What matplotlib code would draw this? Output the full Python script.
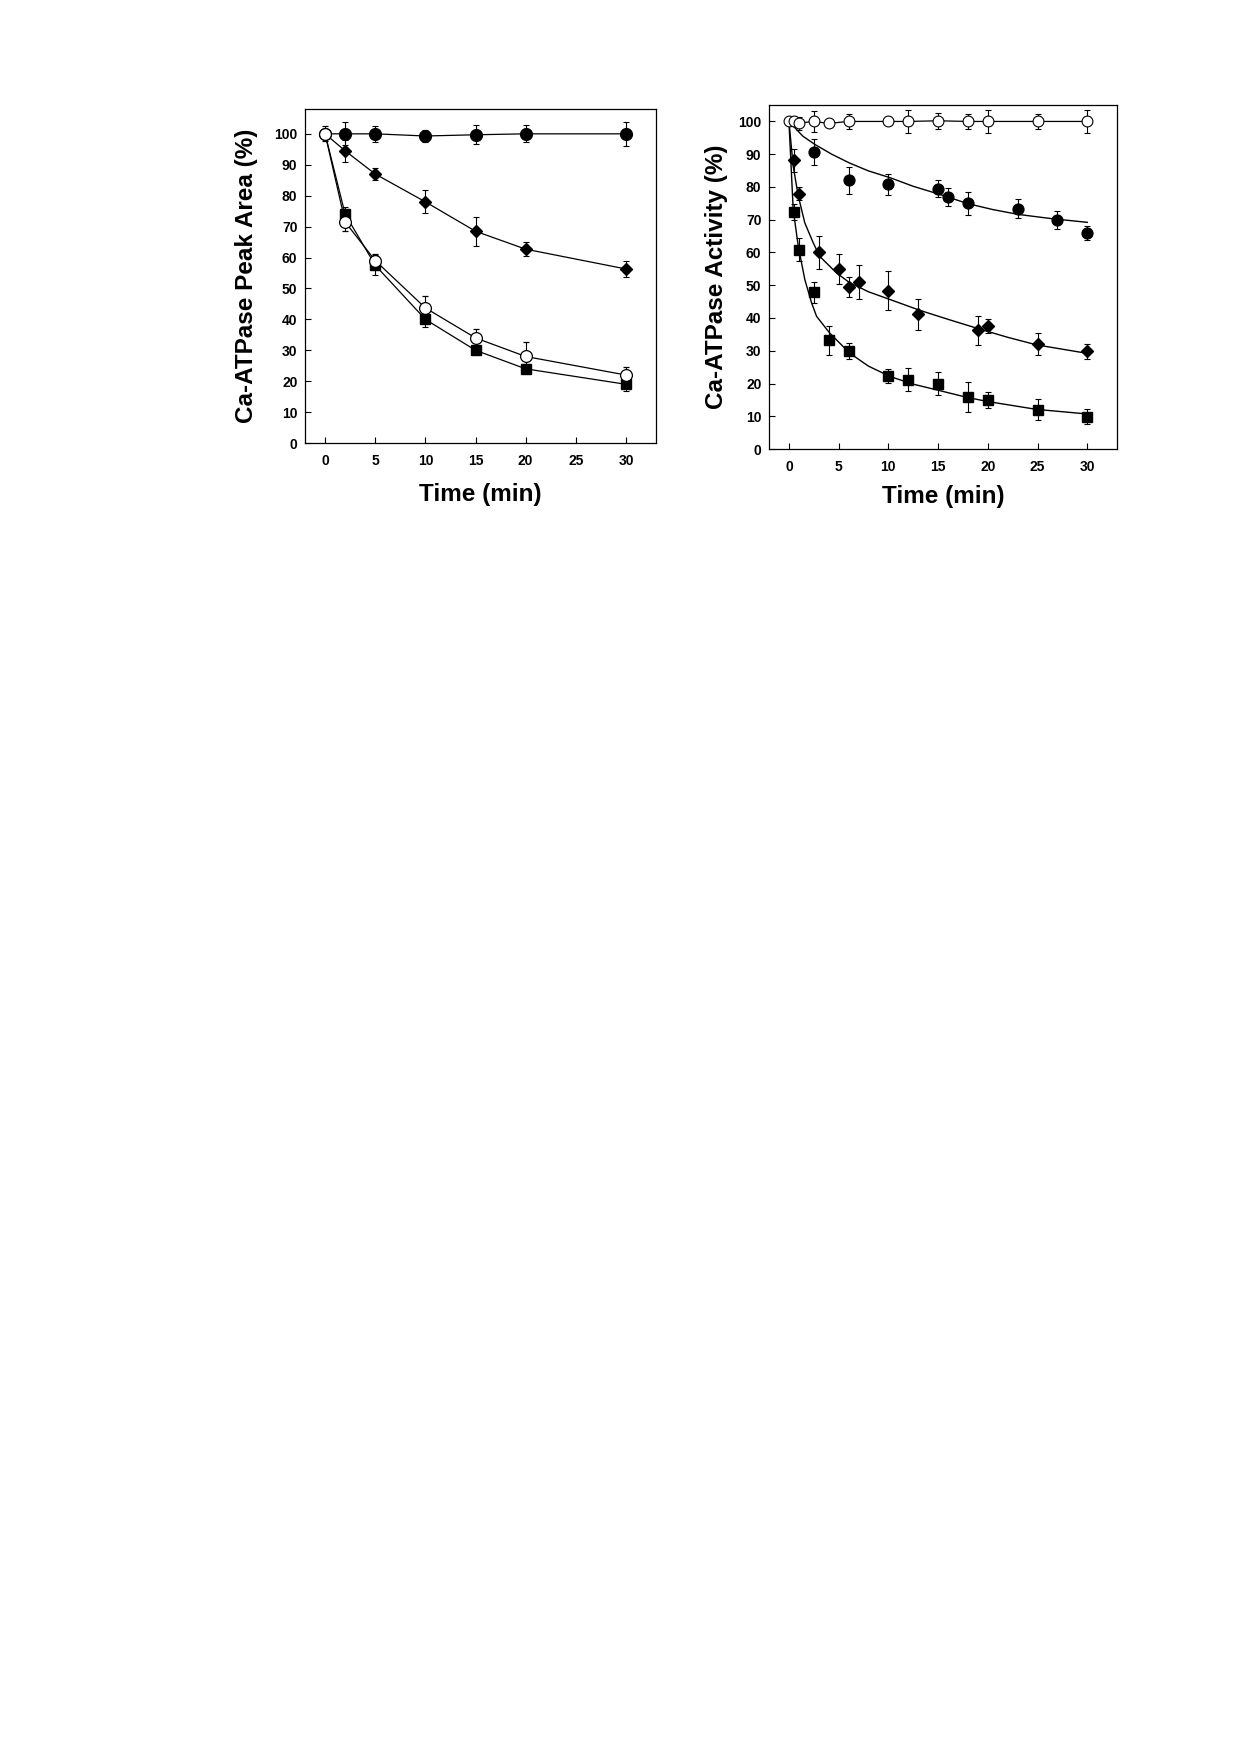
import matplotlib
matplotlib.use('Agg')
import matplotlib.pyplot as plt
import numpy as np

plt.rcParams['font.family'] = ['Liberation Sans', 'DejaVu Sans']
plt.rcParams['font.weight'] = 'bold'

# ---- left panel: Ca-ATPase peak area (%) ----
a_t = [0, 2, 5, 10, 15, 20, 30]
a_circ = [100, 100, 100, 99.3, 99.7, 100, 100]
a_circ_err = [0, 3.7, 2.5, 1.9, 3.0, 2.7, 3.9]
a_diam = [100, 94.5, 87, 78, 68.5, 62.7, 56.3]
a_diam_err = [0, 3.5, 1.8, 3.7, 4.7, 2.3, 2.5]
a_sq = [100, 74, 57.5, 40, 30, 24, 19]
a_sq_err = [0, 2.5, 3.3, 2.5, 1.0, 1.5, 2.1]
a_open = [100, 71.5, 59, 43.7, 34, 28, 22]
a_open_err = [2.4, 2.8, 2.3, 3.7, 2.9, 4.6, 2.7]

# ---- right panel: Ca-ATPase activity (%) ----
b_open_t = [0, 0.5, 1, 2.5, 4, 6, 10, 12, 15, 18, 20, 25, 30]
b_open = [100, 100, 99.5, 100, 99.4, 100, 100, 100, 100.2, 100, 100, 100, 100]
b_open_err = [0, 1.5, 2.0, 3.3, 0, 2.3, 0, 3.6, 2.5, 2.2, 3.4, 2.4, 3.5]

b_circ_t = [2.5, 6, 10, 15, 16, 18, 23, 27, 30]
b_circ = [90.6, 82, 80.8, 79.5, 77, 75, 73.4, 70, 66]
b_circ_err = [4.0, 4.2, 3.3, 2.5, 2.8, 3.6, 2.8, 2.8, 2.1]

b_diam_t = [0.5, 1, 3, 5, 6, 7, 10, 13, 19, 20, 25, 30]
b_diam = [88.1, 78, 60, 55, 49.5, 51, 48.3, 41.1, 36.2, 37.6, 32, 29.8]
b_diam_err = [3.4, 2.0, 5.0, 4.5, 3.0, 5.2, 6.0, 4.7, 4.4, 2.2, 3.3, 2.3]

b_sq_t = [0.5, 1, 2.5, 4, 6, 10, 12, 15, 18, 20, 25, 30]
b_sq = [72.3, 60.9, 47.9, 33.2, 30, 22.3, 21.1, 19.9, 15.9, 14.9, 12, 9.9]
b_sq_err = [2.5, 3.5, 3.2, 4.5, 2.5, 2.0, 3.5, 3.5, 4.6, 2.5, 3.2, 2.3]

# fitted curves
fit_circ_t = [0, 1.4, 2.6, 4.3, 6.1, 8, 10.2, 12.5, 15.2, 18, 20.5, 23.1, 26.5, 30]
fit_circ = [100, 95.5, 93.0, 90.0, 87.3, 84.9, 82.8, 80.2, 77.7, 74.9, 73.1, 71.6, 70.3, 69.2]
fit_diam_t = [0, 0.43, 0.94, 1.6, 2.45, 3.1, 4.8, 6.1, 8, 10.2, 13.2, 16.2, 19.2, 22, 24.9, 30]
fit_diam = [100, 86.3, 77.2, 69, 62.9, 58.8, 53.7, 50.8, 48.0, 45.6, 42.3, 39.4, 36.6, 34.1, 31.8, 29.2]
fit_sq_t = [0, 0.43, 0.94, 1.6, 2.28, 2.78, 4.1, 6.1, 8, 10.2, 12.5, 15.2, 18, 20, 24.9, 30]
fit_sq = [100, 73, 61.9, 51.7, 44.6, 40.5, 35.4, 29.3, 25.3, 22.1, 19.8, 17.8, 15.7, 14.5, 12.1, 10.7]

ebkw = dict(ecolor='black', elinewidth=0.8, capsize=2.5, capthick=0.8, linestyle='none')

fig = plt.figure(figsize=(12.39, 17.54), dpi=100)

ax1 = fig.add_axes([0.2462, 0.7474, 0.2833, 0.1904])
ax1.plot(a_t, a_circ, color='black', lw=0.9)
ax1.plot(a_t, a_diam, color='black', lw=0.9)
ax1.plot(a_t, a_sq, color='black', lw=0.9)
ax1.plot(a_t, a_open, color='black', lw=0.9)
ax1.errorbar(a_t, a_circ, yerr=a_circ_err, marker='o', ms=8.5, mfc='black', mec='black', **ebkw)
ax1.errorbar(a_t[1:], a_diam[1:], yerr=a_diam_err[1:], marker='D', ms=6.2, mfc='black', mec='black', **ebkw)
ax1.errorbar(a_t[1:], a_sq[1:], yerr=a_sq_err[1:], marker='s', ms=7, mfc='black', mec='black', **ebkw)
ax1.errorbar(a_t, a_open, yerr=a_open_err, marker='o', ms=8.5, mfc='white', mec='black', mew=0.9, **ebkw)
ax1.set_xlim(-2, 33)
ax1.set_ylim(0, 108)
ax1.set_xticks([0, 5, 10, 15, 20, 25, 30])
ax1.set_yticks(np.arange(0, 101, 10))
ax1.set_xlabel('Time (min)', fontsize=17.5, fontweight='bold')
ax1.set_ylabel('Ca-ATPase Peak Area (%)', fontsize=17.5, fontweight='bold')
ax1.yaxis.set_label_coords(-0.135, 0.5)
ax1.xaxis.set_label_coords(0.5, -0.12)

ax2 = fig.add_axes([0.6207, 0.744, 0.2809, 0.1961])
ax2.plot(b_open_t, b_open, color='black', lw=0.9)
ax2.plot(fit_circ_t, fit_circ, color='black', lw=1.0)
ax2.plot(fit_diam_t, fit_diam, color='black', lw=1.0)
ax2.plot(fit_sq_t, fit_sq, color='black', lw=1.0)
ax2.errorbar(b_circ_t, b_circ, yerr=b_circ_err, marker='o', ms=7.8, mfc='black', mec='black', **ebkw)
ax2.errorbar(b_diam_t, b_diam, yerr=b_diam_err, marker='D', ms=5.8, mfc='black', mec='black', **ebkw)
ax2.errorbar(b_sq_t, b_sq, yerr=b_sq_err, marker='s', ms=6.7, mfc='black', mec='black', **ebkw)
ax2.errorbar(b_open_t, b_open, yerr=b_open_err, marker='o', ms=7.8, mfc='white', mec='black', mew=0.8, **ebkw)
ax2.set_xlim(-2, 33)
ax2.set_ylim(0, 105)
ax2.set_xticks([0, 5, 10, 15, 20, 25, 30])
ax2.set_yticks(np.arange(0, 101, 10))
ax2.set_xlabel('Time (min)', fontsize=17.5, fontweight='bold')
ax2.set_ylabel('Ca-ATPase Activity (%)', fontsize=17.5, fontweight='bold')
ax2.yaxis.set_label_coords(-0.118, 0.5)
ax2.xaxis.set_label_coords(0.5, -0.105)

for ax in (ax1, ax2):
    ax.tick_params(direction='in', length=4.5, width=0.8, labelsize=10)
    ax.tick_params(axis='x', pad=8)
    ax.tick_params(axis='y', pad=5.5)
    for tl in ax.get_xticklabels() + ax.get_yticklabels():
        tl.set_fontweight('bold')
    for sp in ax.spines.values():
        sp.set_linewidth(0.9)

plt.savefig('out.png', dpi=100)
